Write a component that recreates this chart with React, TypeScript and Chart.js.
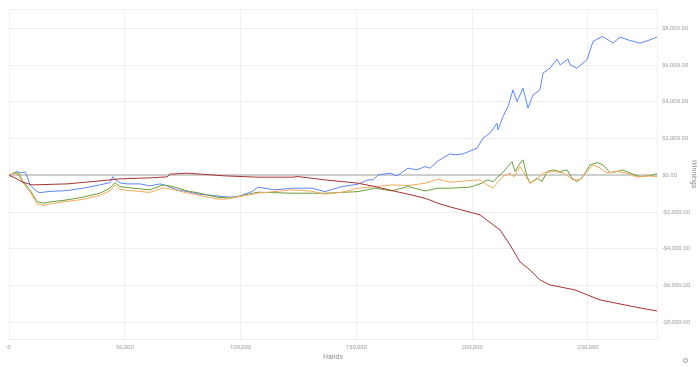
import React, { useEffect, useRef } from "react";
import { Chart, registerables } from "chart.js";

Chart.register(...registerables);

const blueHands = [0, 3454, 4750, 6909, 7772, 9068, 10795, 12090, 13386, 17704, 25044, 31953, 39294, 43612, 44907, 46203, 47930, 50952, 56566, 60884, 65202, 68224, 70815, 72542, 76860, 82474, 89814, 95428, 98882, 104927, 107518, 114859, 122199, 130835, 136449, 143789, 150698, 155016, 157175, 159334, 164516, 167538, 172288, 176174, 179629, 181788, 185242, 190424, 192583, 196037, 202082, 204673, 207696, 210718, 211150, 213309, 215468, 217627, 219355, 221946, 224105, 226263, 229286, 230581, 233604, 236626, 237922, 241376, 242240, 245262, 249580, 252171, 256057, 258216, 260807, 263830, 268148, 272466, 276784, 279806];
const blueWinnings = [0, 207, 136, 190, -27, -517, -735, -882, -936, -871, -827, -697, -517, -392, -65, -245, -408, -463, -463, -571, -463, -571, -697, -789, -882, -1023, -1116, -1186, -1154, -882, -642, -789, -697, -697, -882, -610, -479, -245, -245, 27, 120, -27, 392, 299, 479, 392, 789, 1170, 1116, 1170, 1480, 2024, 2297, 2841, 2476, 3200, 3744, 4653, 4016, 4745, 3657, 4381, 4653, 5562, 5834, 6324, 6014, 6324, 6014, 5834, 6286, 7281, 7553, 7412, 7194, 7521, 7336, 7194, 7374, 7521];

const redHands = [0, 2591, 5613, 9931, 25044, 39294, 47930, 60884, 68224, 69520, 76860, 85496, 93269, 107518, 122199, 124790, 136449, 150698, 158039, 165380, 172288, 179629, 185242, 190424, 203378, 212014, 216332, 220650, 224968, 229286, 233604, 237922, 244399, 250876, 255194, 263830, 272466, 279806];
const redWinnings = [0, -136, -354, -517, -463, -299, -190, -136, -82, 65, 120, 44, -27, -98, -98, -65, -245, -424, -610, -827, -1023, -1241, -1513, -1714, -2150, -2966, -3782, -4707, -5143, -5687, -5959, -6068, -6231, -6558, -6775, -6993, -7211, -7374];

const greenHands = [0, 2591, 4318, 6045, 9068, 12090, 14681, 17704, 25044, 31953, 39294, 43612, 45771, 47930, 53543, 60884, 66497, 70815, 76860, 82474, 89814, 95428, 107518, 122199, 136449, 150698, 158039, 165380, 172288, 179629, 185242, 190424, 199060, 204241, 206400, 208991, 212014, 214173, 217196, 218491, 220650, 221946, 223673, 224968, 227990, 230149, 232308, 234899, 237922, 240944, 243103, 245262, 247853, 250876, 253898, 256489, 259512, 262534, 265125, 268148, 272466, 276784, 279806];
const greenWinnings = [0, 174, 82, -337, -789, -1426, -1513, -1442, -1333, -1186, -969, -697, -392, -610, -697, -789, -517, -610, -844, -969, -1186, -1241, -914, -969, -969, -882, -697, -844, -610, -844, -697, -697, -642, -424, -245, -337, 27, 299, 751, 207, 664, 844, -65, -424, -152, -337, 207, 299, 207, 299, -152, -337, -65, 571, 697, 571, 152, 207, 299, 120, -65, -11, 82];

const orangeHands = [0, 2159, 4318, 6045, 9068, 12090, 14681, 17704, 25044, 31953, 39294, 43612, 45771, 47930, 53543, 60884, 66497, 70815, 76860, 82474, 89814, 93269, 107518, 122199, 129971, 136449, 143789, 150698, 158039, 165380, 172288, 179629, 185242, 190424, 199060, 203378, 206400, 208991, 211150, 213309, 216332, 218059, 220650, 222809, 224968, 227559, 230581, 234899, 239217, 243535, 246557, 249580, 252171, 255194, 258216, 262534, 266852, 271170, 275488, 279806];
const orangeWinnings = [0, 136, -27, -408, -898, -1551, -1622, -1551, -1415, -1306, -1088, -844, -517, -762, -844, -925, -680, -762, -952, -1088, -1279, -1295, -969, -789, -844, -1023, -914, -697, -610, -517, -555, -424, -207, -370, -283, -245, -517, -697, -354, -65, 120, -82, 479, 27, -424, -245, 120, 207, 152, -245, -245, 207, 571, 392, 120, 207, 120, -98, -27, -65];

const xTickValues = [0, 50000, 100000, 150000, 200000, 250000];
const yTickValues = [-8000, -6000, -4000, -2000, 0, 2000, 4000, 6000, 8000];
const X_MAX = 279800;
const Y_MIN = -8900;
const Y_MAX = 9050;

const toPoints = (xs: number[], ys: number[]) => xs.map((x, i) => ({ x, y: ys[i] }));

const FONT = "'Liberation Sans Narrow', 'Roboto', sans-serif";

export default function App() {
  const ref = useRef<HTMLCanvasElement | null>(null);
  useEffect(() => {
    if (!ref.current) return;
    const mk = (label: string, xs: number[], ys: number[], color: string) => ({
      label,
      data: toPoints(xs, ys),
      borderColor: color,
      backgroundColor: color,
      borderWidth: 1,
      pointRadius: 0,
      tension: 0,
      fill: false,
    });
    const chart = new Chart(ref.current, {
      type: "line",
      data: {
        datasets: [
          mk("Red", redHands, redWinnings, "#a83232"),
          mk("Orange", orangeHands, orangeWinnings, "#f7a95c"),
          mk("Green", greenHands, greenWinnings, "#6c9e3c"),
          mk("Blue", blueHands, blueWinnings, "#5f85f8"),
        ],
      },
      options: {
        animation: false,
        responsive: false,
        maintainAspectRatio: false,
        layout: { padding: { left: 9, top: 9, right: 0, bottom: 0 } },
        plugins: { legend: { display: false }, tooltip: { enabled: false } },
        scales: {
          x: {
            type: "linear",
            min: 0,
            max: X_MAX,
            afterBuildTicks: (scale: any) => {
              scale.ticks = [...xTickValues, X_MAX].map((v) => ({ value: v }));
            },
            afterFit: (scale: any) => {
              scale.height = 28;
            },
            grid: { color: "#efefef", lineWidth: 1, drawTicks: false },
            border: { color: "#efefef" },
            ticks: {
              autoSkip: false,
              maxRotation: 0,
              padding: 5,
              color: "#a0a0a0",
              font: { family: FONT, size: 6 },
              callback: (v: any) => (xTickValues.includes(Number(v)) ? Number(v).toLocaleString("en-US") : ""),
            },
            title: {
              display: true,
              text: "Hands",
              color: "#909090",
              font: { family: FONT, size: 7 },
              padding: { top: 0, bottom: 6 },
            },
          },
          y: {
            type: "linear",
            position: "right",
            min: Y_MIN,
            max: Y_MAX,
            afterBuildTicks: (scale: any) => {
              scale.ticks = [Y_MIN, ...yTickValues, Y_MAX].map((v) => ({ value: v }));
            },
            afterFit: (scale: any) => {
              scale.width = 43;
            },
            grid: {
              drawTicks: false,
              color: (ctx: any) => (ctx.tick && ctx.tick.value === 0 ? "#cfcfcf" : "#efefef"),
              lineWidth: (ctx: any) => (ctx.tick && ctx.tick.value === 0 ? 2 : 1),
            },
            border: { color: "#efefef" },
            ticks: {
              autoSkip: false,
              padding: 5,
              color: "#a0a0a0",
              font: { family: FONT, size: 6 },
              callback: (v: any) => {
                const n = Number(v);
                if (!yTickValues.includes(n)) return "";
                const s = "$" + Math.abs(n).toLocaleString("en-US", { minimumFractionDigits: 2, maximumFractionDigits: 2 });
                return n < 0 ? "-" + s : s;
              },
            },
            title: {
              display: true,
              text: "Winnings",
              color: "#909090",
              font: { family: FONT, size: 7 },
              padding: { top: 2, bottom: 0 },
            },
          },
        },
      },
    });
    return () => chart.destroy();
  }, []);
  return (
    <div style={{ position: "absolute", left: 0, top: 0, width: 700, height: 367, background: "#fff" }}>
      <canvas ref={ref} width={700} height={367} style={{ display: "block", width: 700, height: 367 }} />
      <div
        style={{
          position: "absolute",
          left: 683,
          top: 358,
          width: 5,
          height: 5,
          borderRadius: "50%",
          border: "1px solid #9a9a9a",
          boxSizing: "border-box",
        }}
      />
    </div>
  );
}
